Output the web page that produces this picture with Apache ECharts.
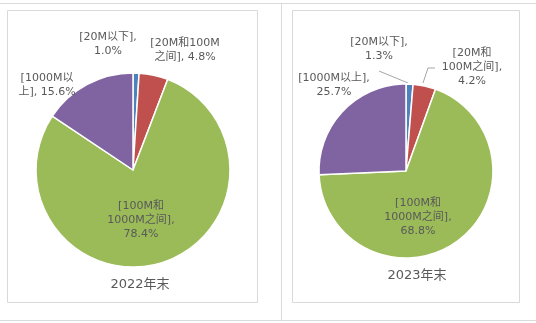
<!DOCTYPE html>
<html><head><meta charset="utf-8">
<script src="https://cdn.jsdelivr.net/npm/echarts@6/dist/echarts.min.js"></script>
<style>html,body{margin:0;padding:0;background:#fff}#c{width:536px;height:323px}</style>
</head><body><div id="c"></div>
<script>
const categories = ['[20M以下]', '[20M和100M之间]', '[100M和1000M之间]', '[1000M以上]'];
const values2022 = [1.0, 4.8, 78.4, 15.6];
const values2023 = [1.3, 4.2, 68.8, 25.7];
const titles = ['2022年末', '2023年末'];
const colors = ['#4F81BD', '#C0504D', '#9BBB59', '#8064A2'];

// label line-break style: [cut position in name, break before value]
const breaks = [
  [[0, true], [9, false], [6, true], [7, false]],
  [[0, true], [5, true], [6, true], [0, true]]
];
// label anchor positions (centre of text block)
const labelPos = [
  [[108, 44], [185, 50], [141, 220], [47, 85]],
  [[379, 49], [472, 67], [418, 217], [334, 85]]
];
const leader = [
  [null, null, null, null],
  [[[408, 83], [379, 71]], [[423, 83], [428, 68], [435, 68]], null, null]
];

function fmt(s, i, name, v) {
  const b = breaks[s][i];
  let n = b[0] > 0 ? name.slice(0, b[0]) + '\n' + name.slice(b[0]) : name;
  return n + (b[1] ? ',\n' : ', ') + v.toFixed(1) + '%';
}

const font = "'DejaVu Sans','Noto Sans CJK SC',sans-serif";
function mkSeries(s, vals, center, r) {
  return {
    type: 'pie', center: center, radius: r, startAngle: 90, clockwise: true,
    animation: false, silent: true,
    itemStyle: { borderColor: '#fff', borderWidth: 1.5 },
    label: { show: true, position: 'outside', color: '#595959', fontSize: 11, lineHeight: 14, fontFamily: font, align: 'center',
      overflow: 'none', width: 200,
      formatter: p => fmt(s, p.dataIndex, p.name, p.value) },
    labelLine: { show: true, lineStyle: { color: '#a6a6a6', width: 1 } },
    labelLayout: function (p) {
      const pos = labelPos[s][p.dataIndex];
      const o = { x: pos[0], y: pos[1], align: 'center', verticalAlign: 'middle', width: 200 };
      const l = leader[s][p.dataIndex];
      o.labelLinePoints = l ? (l.length === 2 ? [l[0], l[0], l[1]] : l) : [[0,0],[0,0],[0,0]];
      return o;
    },
    data: categories.map((c, i) => ({ name: c, value: vals[i], itemStyle: { color: colors[i] },
      labelLine: { show: !!leader[s][i] } }))
  };
}

const chart = echarts.init(document.getElementById('c'));
chart.setOption({
  animation: false,
  title: [
    { text: titles[0], left: 140, top: 278, padding: 0, textAlign: 'center',
      textStyle: { fontSize: 13, fontWeight: 'normal', color: '#595959', fontFamily: font } },
    { text: titles[1], left: 417, top: 269, padding: 0, textAlign: 'center',
      textStyle: { fontSize: 13, fontWeight: 'normal', color: '#595959', fontFamily: font } }
  ],
  graphic: [
    { type: 'line', shape: { x1: 0, y1: 3.5, x2: 536, y2: 3.5 }, style: { stroke: '#d9d9d9', lineWidth: 1 } },
    { type: 'line', shape: { x1: 0, y1: 320.5, x2: 536, y2: 320.5 }, style: { stroke: '#d9d9d9', lineWidth: 1 } },
    { type: 'line', shape: { x1: 281.5, y1: 3.5, x2: 281.5, y2: 320.5 }, style: { stroke: '#d9d9d9', lineWidth: 1 } },
    { type: 'rect', shape: { x: 7.5, y: 10.5, width: 250, height: 292 }, style: { fill: 'none', stroke: '#d9d9d9', lineWidth: 1 } },
    { type: 'rect', shape: { x: 292.5, y: 10.5, width: 227, height: 292 }, style: { fill: 'none', stroke: '#d9d9d9', lineWidth: 1 } }
  ],
  series: [
    mkSeries(0, values2022, [133, 170], 97),
    mkSeries(1, values2023, [406, 171], 87)
  ]
});
</script></body></html>
